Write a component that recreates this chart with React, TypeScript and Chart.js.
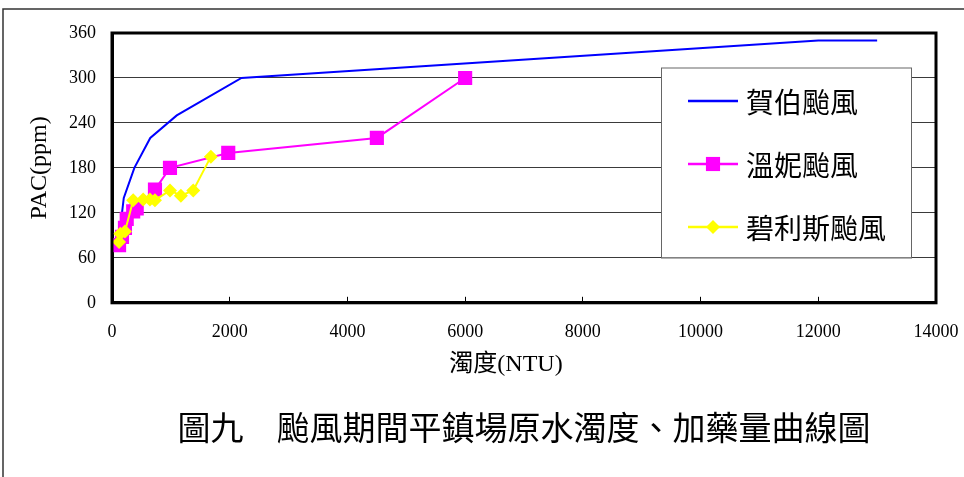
import React, { useEffect, useRef } from "react";
import { Chart, registerables } from "chart.js";

Chart.register(...registerables);

// ---- data ----
const seriesNames = ["賀伯颱風", "溫妮颱風", "碧利斯颱風"];

const herbX = [120, 170, 200, 380, 650, 1100, 2200, 12000, 13000];
const herbY = [68, 120, 140, 180, 220, 250, 300, 350, 350];

const winnieX = [120, 170, 220, 250, 360, 420, 730, 985, 1975, 4500, 6000];
const winnieY = [77, 88, 100, 112, 122, 126, 151, 180, 200, 220, 300];

const bilisX = [120, 140, 220, 360, 530, 645, 730, 985, 1170, 1380, 1680];
const bilisY = [81, 92, 95, 137, 138, 138, 137, 150, 143, 150, 195];

const xTickValues = [0, 2000, 4000, 6000, 8000, 10000, 12000, 14000];
const yTickValues = [0, 60, 120, 180, 240, 300, 360];

const xTitle = "濁度(NTU)";
const yTitle = "PAC(ppm)";
const caption = "圖九　颱風期間平鎮場原水濁度、加藥量曲線圖";

const toPoints = (xs: number[], ys: number[]) => xs.map((x, i) => ({ x, y: ys[i] }));

const CJK = "'Noto Sans CJK TC'";
const SERIF = "'Liberation Serif', 'Noto Sans CJK TC', serif";

const framePlugin = {
  id: "frame",
  beforeDraw(chart: any) {
    const { ctx, width, height } = chart;
    ctx.save();
    ctx.fillStyle = "#ffffff";
    ctx.fillRect(0, 0, width, height);
    ctx.strokeStyle = "#333333";
    ctx.lineWidth = 1.5;
    ctx.beginPath();
    ctx.moveTo(3, height);
    ctx.lineTo(3, 9);
    ctx.lineTo(width, 9);
    ctx.stroke();
    ctx.restore();
  },
  afterDraw(chart: any) {
    const { ctx, chartArea: ca } = chart;
    ctx.save();
    ctx.strokeStyle = "#000000";
    ctx.lineWidth = 3;
    ctx.strokeRect(ca.left, ca.top, ca.right - ca.left, ca.bottom - ca.top);

    // legend box
    const left = ca.right - 275;
    const top = ca.top + 34.5;
    const w = 250;
    const h = 190;
    ctx.fillStyle = "#ffffff";
    ctx.fillRect(left, top, w, h);
    ctx.strokeStyle = "#666666";
    ctx.lineWidth = 1;
    ctx.strokeRect(left + 0.5, top + 0.5, w, h);

    chart.data.datasets.forEach((ds: any, i: number) => {
      const y = top + 33.5 + i * 63;
      const x0 = left + 27;
      const x1 = left + 77;
      const cx = (x0 + x1) / 2;
      ctx.strokeStyle = ds.borderColor;
      ctx.lineWidth = 2.5;
      ctx.beginPath();
      ctx.moveTo(x0, y);
      ctx.lineTo(x1, y);
      ctx.stroke();
      ctx.fillStyle = ds.pointBackgroundColor || ds.borderColor;
      if (ds.pointRadius > 0) {
        if (ds.pointStyle === "rect") {
          const s = ds.pointRadius * Math.SQRT1_2;
          ctx.fillRect(cx - s, y - s, 2 * s, 2 * s);
        } else if (ds.pointStyle === "rectRot") {
          const r = ds.pointRadius;
          ctx.beginPath();
          ctx.moveTo(cx, y - r);
          ctx.lineTo(cx + r, y);
          ctx.lineTo(cx, y + r);
          ctx.lineTo(cx - r, y);
          ctx.closePath();
          ctx.fill();
        }
      }
      ctx.fillStyle = "#000000";
      ctx.font = `28px ${CJK}`;
      ctx.textAlign = "left";
      ctx.textBaseline = "middle";
      ctx.fillText(ds.label, left + 85, y + 1);
    });
    ctx.restore();
  },
};

export default function App() {
  const ref = useRef<HTMLCanvasElement | null>(null);

  useEffect(() => {
    document.body.style.margin = "0";
    if (!ref.current) return;
    const chart = new Chart(ref.current, {
      type: "line",
      data: {
        datasets: [
          {
            label: seriesNames[0],
            data: toPoints(herbX, herbY),
            borderColor: "#0000ff",
            backgroundColor: "#0000ff",
            borderWidth: 2,
            pointRadius: 0,
            tension: 0,
            order: 2,
          },
          {
            label: seriesNames[1],
            data: toPoints(winnieX, winnieY),
            borderColor: "#ff00ff",
            backgroundColor: "#ff00ff",
            pointBackgroundColor: "#ff00ff",
            pointBorderColor: "#ff00ff",
            borderWidth: 2,
            pointStyle: "rect",
            pointRadius: 10,
            pointBorderWidth: 0,
            tension: 0,
            order: 1,
          },
          {
            label: seriesNames[2],
            data: toPoints(bilisX, bilisY),
            borderColor: "#ffff00",
            backgroundColor: "#ffff00",
            pointBackgroundColor: "#ffff00",
            pointBorderColor: "#ffff00",
            borderWidth: 2,
            pointStyle: "rectRot",
            pointRadius: 7,
            pointBorderWidth: 0,
            tension: 0,
            order: 0,
          },
        ] as any,
      },
      options: {
        animation: false,
        responsive: false,
        layout: { padding: { left: 0, top: 33, right: 28, bottom: 29.6 } },
        plugins: {
          legend: { display: false },
          tooltip: { enabled: false },
          title: {
            display: true,
            position: "bottom",
            fullSize: false,
            text: caption,
            color: "#000000",
            font: { family: CJK, size: 33, weight: "normal" as any, lineHeight: 1.2 },
            padding: { top: 20, bottom: 0 },
          },
        },
        scales: {
          x: {
            type: "linear",
            min: 0,
            max: 14000,
            afterBuildTicks: (scale: any) => {
              scale.ticks = xTickValues.map((v) => ({ value: v }));
            },
            afterFit: (scale: any) => {
              scale.height = 85;
              scale.paddingLeft = 0;
              scale.paddingRight = 0;
            },
            ticks: {
              color: "#000000",
              font: { family: SERIF, size: 18 },
              padding: 25,
              maxRotation: 0,
              autoSkip: false,
              callback: (v: any) => String(v),
            },
            grid: {
              drawOnChartArea: false,
              drawTicks: true,
              tickLength: -6,
              color: "#000000",
              lineWidth: 1,
            },
            border: { display: true, color: "#000000", width: 3 },
            title: {
              display: true,
              text: xTitle + "\u2002\u2002\u2002",
              color: "#000000",
              font: { family: SERIF, size: 24, lineHeight: 1.2 },
              padding: { top: 0, bottom: 8.6 },
            },
          },
          y: {
            type: "linear",
            min: 0,
            max: 360,
            afterBuildTicks: (scale: any) => {
              scale.ticks = yTickValues.map((v) => ({ value: v }));
            },
            afterFit: (scale: any) => {
              scale.width = 112;
              scale.paddingTop = 0;
              scale.paddingBottom = 0;
            },
            ticks: {
              color: "#000000",
              font: { family: SERIF, size: 18 },
              padding: 16,
              autoSkip: false,
              callback: (v: any) => String(v),
            },
            grid: {
              drawTicks: false,
              color: "#3a3a3a",
              lineWidth: 1,
            },
            border: { display: true, color: "#000000", width: 3 },
            title: {
              display: true,
              text: yTitle,
              color: "#000000",
              font: { family: SERIF, size: 24, lineHeight: 1.2 },
              padding: { top: 25.6, bottom: 0 },
            },
          },
        },
      } as any,
      plugins: [framePlugin],
    });
    return () => chart.destroy();
  }, []);

  return (
    <div style={{ width: 964, height: 477 }}>
      <canvas ref={ref} width={964} height={477} style={{ display: "block" }} />
    </div>
  );
}
